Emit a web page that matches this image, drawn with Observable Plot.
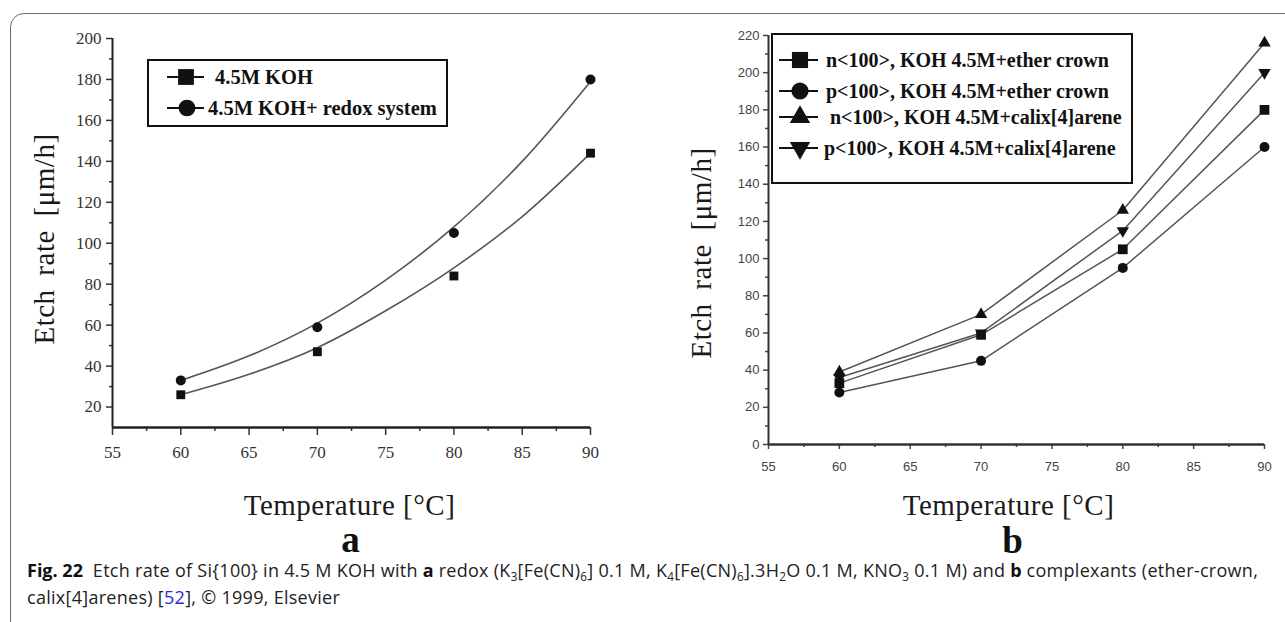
<!DOCTYPE html>
<html><head><meta charset="utf-8">
<script src="https://cdn.jsdelivr.net/npm/d3@7"></script>
<script src="https://cdn.jsdelivr.net/npm/@observablehq/plot@0.6"></script>
<style>
body{margin:0;background:#fff;width:1285px;height:622px;overflow:hidden;position:relative;}
.abs{position:absolute;}
#frame{left:10px;top:13px;width:1400px;height:800px;border:1.5px solid #6a6a6a;border-radius:14px;box-sizing:border-box}
.leg{position:absolute;border:2px solid #111;box-sizing:border-box}
.legtext{position:absolute;font-family:"Liberation Serif",serif;font-weight:bold;white-space:nowrap;color:#111;line-height:1;transform:translateY(-50%)}
#caption{left:27px;top:557px;width:1255px;font-family:"Open Sans",sans-serif;font-size:18px;line-height:27px;color:#222;letter-spacing:0.28px;white-space:nowrap}
#caption sub{font-size:0.65em;line-height:0;vertical-align:-0.3em}
#caption b{font-weight:700;color:#111;letter-spacing:0}
#pa svg, #pa svg text, #pb svg text{font-family:"Liberation Serif","Times New Roman",serif !important}
#pb svg g[aria-label$="tick label"] text, #pb svg .sansTick text{font-family:"Liberation Sans",Arial,sans-serif !important}
</style></head><body>
<div id="frame" class="abs"></div>
<div id="pa" class="abs" style="left:0;top:0"></div>
<div id="pb" class="abs" style="left:640px;top:0"></div>
<div id="legends"></div>
<div id="caption" class="abs"><b>Fig. 22</b>&nbsp; Etch rate of Si{100} in 4.5 M KOH with <b>a</b> redox (K<sub>3</sub>[Fe(CN)<sub>6</sub>] 0.1 M, K<sub>4</sub>[Fe(CN)<sub>6</sub>].3H<sub>2</sub>O 0.1 M, KNO<sub>3</sub> 0.1 M) and <b>b</b> complexants (ether-crown,<br>calix[4]arenes) [<span style="color:#2b2bd9">52</span>], © 1999, Elsevier</div>
<script>
// ---------- data ----------
const temps = [60, 70, 80, 90];
// panel a: measured points
const kohA = [26, 47, 84, 144];
const redoxA = [33, 59, 105, 180];
// panel a: fitted curves
const fitTemps = [60, 65, 70, 75, 80, 85, 90];
const kohFit = [26, 36, 49, 67, 88, 113, 144];
const redoxFit = [33, 45, 61, 82, 108, 140, 179];
const seriesA = ["4.5M KOH", "4.5M KOH+ redox system"];
// panel b
const nEther = [33, 59, 105, 180];
const pEther = [28, 45, 95, 160];
const nCalix = [39, 70, 126, 216];
const pCalix = [36, 60, 115, 200];
const seriesB = [
  "n<100>, KOH 4.5M+ether crown",
  "p<100>, KOH 4.5M+ether crown",
  "n<100>, KOH 4.5M+calix[4]arene",
  "p<100>, KOH 4.5M+calix[4]arene"
];
const xTitle = "Temperature [°C]";
const yTitle = "Etch rate [μm/h]";
// ticks
const xTicks = [55, 60, 65, 70, 75, 80, 85, 90];
const xMinor = [57.5, 62.5, 67.5, 72.5, 77.5, 82.5, 87.5];
const yTicksA = [20, 40, 60, 80, 100, 120, 140, 160, 180, 200];
const yMinorA = [30, 50, 70, 90, 110, 130, 150, 170, 190];
const yTicksB = [0, 20, 40, 60, 80, 100, 120, 140, 160, 180, 200, 220];
const yMinorB = [10, 30, 50, 70, 90, 110, 130, 150, 170, 190, 210];

const sqrt3 = Math.sqrt(3);
const triangleDown = {
  draw(context, size) {
    const y = -Math.sqrt(size / (sqrt3 * 3));
    context.moveTo(0, -y * 2);
    context.lineTo(-sqrt3 * y, y);
    context.lineTo(sqrt3 * y, y);
    context.closePath();
  }
};

const pts = (vals, s) => temps.map((t, i) => ({t, v: vals[i], s}));
const fit = (vals, s) => fitTemps.map((t, i) => ({t, v: vals[i], s}));

const serif = "Liberation Serif";
const sans = "Liberation Sans";
const titleStyle = {fontSize: 29, fontFamily: serif, fill: "#1a1a1a"};

// ---------- panel a ----------
const plotA = Plot.plot({
  width: 640, height: 560,
  marginLeft: 112, marginRight: 50, marginTop: 38, marginBottom: 133,
  x: {domain: [55, 90], label: null},
  y: {domain: [10, 200], label: null},
  style: {fontFamily: serif, background: "transparent", overflow: "visible", color: "#222"},
  marks: [
    Plot.axisY(yTicksA, {tickSize: 6, tickPadding: 5, fontSize: 17, fontFamily: serif, color: "#333", strokeWidth: 1.5, label: null, tickFormat: d => d}),
    Plot.axisY(yMinorA, {tickSize: 3, strokeWidth: 1.5, color: "#333", label: null, tickFormat: () => ""}),
    Plot.axisX(xTicks, {tickSize: 8, tickPadding: 10, fontSize: 17, fontFamily: serif, color: "#333", strokeWidth: 1.5, label: null, tickFormat: d => d}),
    Plot.axisX(xMinor, {tickSize: 4, strokeWidth: 1.5, color: "#333", label: null, tickFormat: () => ""}),
    Plot.ruleX([55], {stroke: "#222", strokeWidth: 2}),
    Plot.ruleY([10], {stroke: "#222", strokeWidth: 2.5}),
    Plot.line(fit(kohFit, seriesA[0]), {x: "t", y: "v", curve: "catmull-rom", stroke: "#555", strokeWidth: 1.6}),
    Plot.line(fit(redoxFit, seriesA[1]), {x: "t", y: "v", curve: "catmull-rom", stroke: "#555", strokeWidth: 1.6}),
    Plot.dot(pts(kohA, seriesA[0]), {x: "t", y: "v", symbol: "square", r: 5, fill: "#111"}),
    Plot.dot(pts(redoxA, seriesA[1]), {x: "t", y: "v", symbol: "circle", r: 5, fill: "#111"}),
    Plot.text([xTitle], {frameAnchor: "bottom", dy: 87, dx: -2, ...titleStyle}),
    Plot.text(["a"], {frameAnchor: "bottom", dy: 124, dx: -1, fontSize: 37, fontFamily: serif, fontWeight: "bold", fill: "#111"}),
    Plot.text([yTitle], {frameAnchor: "left", textAnchor: "middle", rotate: -90, dx: -68, dy: 6, ...titleStyle})
  ]
});
document.getElementById("pa").appendChild(plotA);

// ---------- panel b ----------
const plotB = Plot.plot({
  width: 645, height: 560,
  marginLeft: 128, marginRight: 21, marginTop: 35, marginBottom: 116,
  x: {domain: [55, 90], label: null},
  y: {domain: [0, 220], label: null},
  style: {fontFamily: serif, background: "transparent", overflow: "visible", color: "#222"},
  marks: [
    Plot.axisY(yTicksB, {tickSize: 5, tickPadding: 4, fontSize: 13, fontFamily: sans, color: "#444", strokeWidth: 1.5, label: null, tickFormat: d => d}),
    Plot.axisY(yMinorB, {tickSize: 3, strokeWidth: 1.5, color: "#444", label: null, tickFormat: () => ""}),
    Plot.axisX(xTicks, {tickSize: 5, tickPadding: 12, fontSize: 13, fontFamily: sans, color: "#444", strokeWidth: 1.5, label: null, tickFormat: d => d}),
    Plot.axisX(xMinor, {tickSize: 3, strokeWidth: 1.5, color: "#444", label: null, tickFormat: () => ""}),
    Plot.ruleX([55], {stroke: "#333", strokeWidth: 2}),
    Plot.ruleY([0], {stroke: "#333", strokeWidth: 2.5}),
    Plot.line(pts(nEther, seriesB[0]), {x: "t", y: "v", stroke: "#555", strokeWidth: 1.5}),
    Plot.line(pts(pEther, seriesB[1]), {x: "t", y: "v", stroke: "#555", strokeWidth: 1.5}),
    Plot.line(pts(nCalix, seriesB[2]), {x: "t", y: "v", stroke: "#555", strokeWidth: 1.5}),
    Plot.line(pts(pCalix, seriesB[3]), {x: "t", y: "v", stroke: "#555", strokeWidth: 1.5}),
    Plot.dot(pts(nEther, seriesB[0]), {x: "t", y: "v", symbol: "square", r: 5.5, fill: "#111"}),
    Plot.dot(pts(pEther, seriesB[1]), {x: "t", y: "v", symbol: "circle", r: 5, fill: "#111"}),
    Plot.dot(pts(nCalix, seriesB[2]), {x: "t", y: "v", symbol: "triangle", r: 4.6, fill: "#111"}),
    Plot.dot(pts(pCalix, seriesB[3]), {x: "t", y: "v", symbol: triangleDown, r: 4.6, fill: "#111"}),
    Plot.text([xTitle], {frameAnchor: "bottom", dy: 70, dx: -8, ...titleStyle}),
    Plot.text(["b"], {frameAnchor: "bottom", dy: 108, dx: -4, fontSize: 37, fontFamily: serif, fontWeight: "bold", fill: "#111"}),
    Plot.text([yTitle], {frameAnchor: "left", textAnchor: "middle", rotate: -90, dx: -67, dy: 13, ...titleStyle})
  ]
});
document.getElementById("pb").appendChild(plotB);

// title spacing tweaks and explicit fonts per text element
document.querySelectorAll("#pa text").forEach(t => t.setAttribute("font-family", serif));
document.querySelectorAll("#pb text").forEach(t => {
  const label = t.parentNode && t.parentNode.getAttribute && t.parentNode.getAttribute("aria-label");
  if (label && /tick label/.test(label)) t.parentNode.classList.add("sansTick");
});
document.querySelectorAll("#pa text, #pb text").forEach(t => {
  if (t.textContent === xTitle) t.style.letterSpacing = "0.5px";
  if (t.textContent === yTitle) { t.style.letterSpacing = "0.5px"; t.style.wordSpacing = "6px"; }
});

// ---------- legends (HTML) ----------
const legRoot = document.getElementById("legends");
function box(l, t, w, h) {
  const d = document.createElement("div");
  d.className = "leg";
  Object.assign(d.style, {left: l + "px", top: t + "px", width: w + "px", height: h + "px"});
  legRoot.appendChild(d);
}
function item(x0, x1, cx, cy, sym, size, textLeft, text, fontSize) {
  const svg = d3.create("svg").attr("width", 1285).attr("height", 622)
    .style("position", "absolute").style("left", 0).style("top", 0).style("overflow", "visible");
  svg.append("line").attr("x1", x0).attr("x2", x1).attr("y1", cy).attr("y2", cy)
    .attr("stroke", "#111").attr("stroke-width", 2);
  svg.append("path").attr("transform", `translate(${cx},${cy})`)
    .attr("d", d3.symbol().type(sym).size(size)()).attr("fill", "#111");
  legRoot.appendChild(svg.node());
  const s = document.createElement("div");
  s.className = "legtext";
  s.textContent = text;
  Object.assign(s.style, {left: textLeft + "px", top: cy + "px", fontSize: fontSize + "px"});
  legRoot.appendChild(s);
}
box(147, 59, 301, 68);
item(167, 204, 186, 77, d3.symbolSquare, 250, 215, seriesA[0], 20.5);
item(167, 204, 187, 108, d3.symbolCircle, 220, 208, seriesA[1], 20.5);

box(771, 33, 362, 151);
item(779, 818, 800, 60, d3.symbolSquare, 260, 826, seriesB[0], 20);
item(779, 818, 800, 91, d3.symbolCircle, 230, 826, seriesB[1], 20);
item(779, 818, 800, 117, d3.symbolTriangle, 180, 830, seriesB[2], 20);
item(779, 818, 800, 148, triangleDown, 180, 824, seriesB[3], 20);
</script>
</body></html>
